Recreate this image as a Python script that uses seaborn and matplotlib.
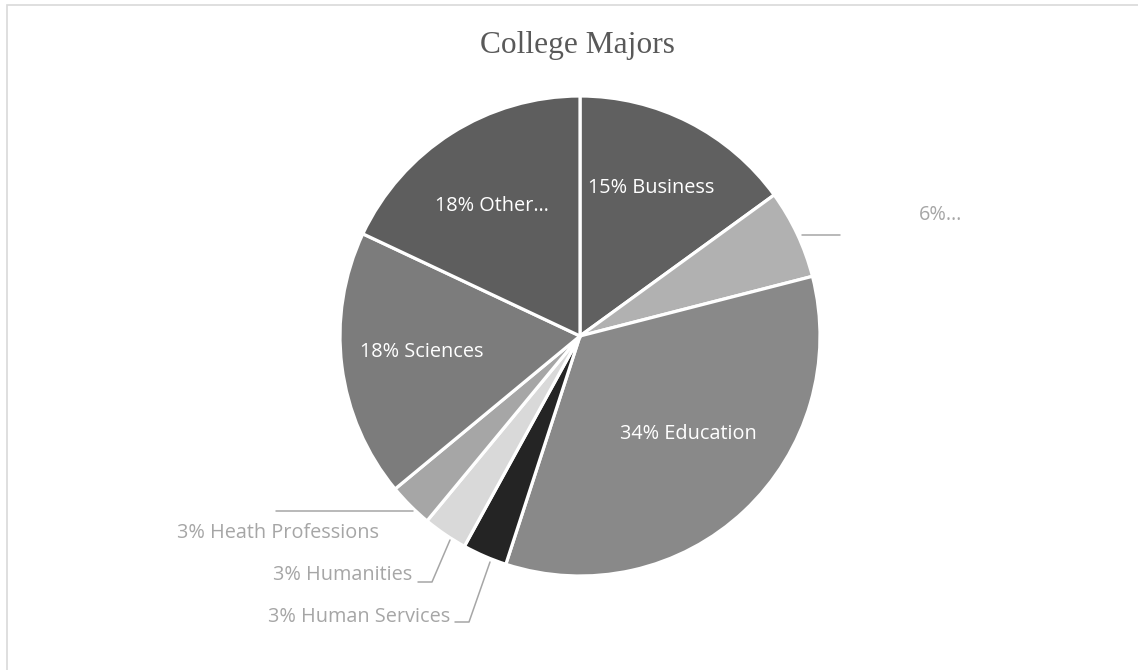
import matplotlib
matplotlib.use("Agg")
import matplotlib.pyplot as plt
from matplotlib.patches import Rectangle
import seaborn as sns

# Share of students by major, clockwise from 12 o'clock
majors = ["Business", "6%\u2026", "Education", "Human Services", "Humanities",
          "Heath Professions", "Sciences", "Other\u2026"]
shares = [15, 6, 34, 3, 3, 3, 18, 18]
slice_colors = ["#606060", "#b1b1b1", "#898989", "#242424", "#d9d9d9",
                "#a6a6a6", "#7c7c7c", "#5e5e5e"]

sns.set_theme(style="white")
plt.rcParams["font.family"] = ["Open Sans", "DejaVu Sans"]

W, H = 1138, 670
fig = plt.figure(figsize=(W / 100, H / 100), dpi=100)
ax = fig.add_axes([0, 0, 1, 1])


def px(x, y):
    """Convert top-left pixel coordinates to axes data coordinates."""
    return x, H - y


cx, cy = px(580, 336)
radius = 240

wedges, _ = ax.pie(shares, colors=slice_colors, startangle=90, counterclock=False,
                   radius=radius, center=(cx, cy), frame=True,
                   wedgeprops=dict(edgecolor="white", linewidth=2.3))
ax.set_xlim(0, W)
ax.set_ylim(0, H)
ax.set_aspect("equal")
ax.axis("off")

label_size = 14.3

# Labels inside the larger slices (slice index -> label centre in pixels)
inside_pos = {0: (651, 188), 2: (688, 434), 6: (422, 352), 7: (492, 206)}
for i, (x, y) in inside_pos.items():
    ax.text(*px(x, y), f"{shares[i]}% {majors[i]}", ha="center", va="center",
            color="white", fontsize=label_size)

label_gray = "#a6a6a6"

# Callout for the small slice at the right
ax.plot(*zip(px(802, 235), px(840, 235)), color=label_gray, lw=1.1)
ax.text(*px(919, 215), f"{majors[1]}", ha="left", va="center",
        color=label_gray, fontsize=label_size)

# Callouts for the three small slices at the lower left
ax.plot(*zip(px(413, 511), px(276, 511)), color=label_gray, lw=1.1)
ax.text(*px(379, 533), f"{shares[5]}% {majors[5]}", ha="right", va="center",
        color=label_gray, fontsize=label_size)

ax.plot(*zip(px(450, 540), px(432, 582), px(418, 582)), color=label_gray, lw=1.1)
ax.text(*px(412, 575), f"{shares[4]}% {majors[4]}", ha="right", va="center",
        color=label_gray, fontsize=label_size)

ax.plot(*zip(px(490, 562), px(469, 622), px(455, 622)), color=label_gray, lw=1.1)
ax.text(*px(450, 617), f"{shares[3]}% {majors[3]}", ha="right", va="center",
        color=label_gray, fontsize=label_size)

# Title
ax.text(*px(577, 45), "College Majors", ha="center", va="center",
        color="#595959", fontsize=22.6, family=["Liberation Serif", "DejaVu Serif"])

# Chart-area border (only top and left edges fall inside the canvas)
ax.add_patch(Rectangle(px(7, 700), 1200, 695, fill=False,
                       edgecolor="#d9d9d9", lw=1.2, clip_on=False))

fig.savefig("out.png", dpi=100, facecolor="white")
